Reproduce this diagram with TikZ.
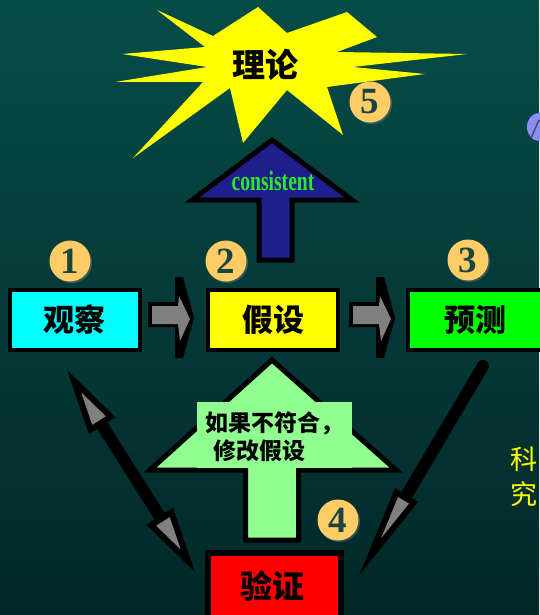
\documentclass[tikz,border=0pt]{standalone}
\usepackage{fontspec}
\newfontfamily\cjk{Noto Sans CJK SC}
\newfontfamily\numfont{Liberation Serif}
\usetikzlibrary{calc,shadows}
\definecolor{bgtop}{RGB}{6,76,72}
\definecolor{bgbot}{RGB}{3,40,40}
\definecolor{numorange}{RGB}{255,204,102}
\definecolor{numteal}{RGB}{28,68,62}
\definecolor{navyarr}{RGB}{30,30,140}
\definecolor{lgreen}{RGB}{144,255,144}
\definecolor{consgreen}{RGB}{40,235,40}
\definecolor{arrgray}{RGB}{128,128,128}
\definecolor{lav}{RGB}{140,140,255}
\definecolor{boxcyan}{RGB}{0,255,255}
\definecolor{boxgreen}{RGB}{0,255,0}
\definecolor{boxyellow}{RGB}{255,255,0}
\definecolor{boxred}{RGB}{255,0,0}
\tikzset{
  cbox/.style={draw=black, line width=4pt, minimum width=130pt, minimum height=60pt, inner sep=0pt,
    font=\cjk\bfseries\fontsize{31}{31}\selectfont, text=black},
  numc/.style={circle, fill=numorange, minimum size=41pt, inner sep=0pt,
    font=\numfont\bfseries\fontsize{37}{37}\selectfont, text=numteal,
    drop shadow={opacity=0.45, shadow xshift=1.5pt, shadow yshift=-1.5pt}},
  headst/.style={fill=arrgray, draw=black, line width=6pt, line join=miter, miter limit=12},
  bigarr/.style={draw=black, line width=5pt, line join=miter, miter limit=12},
}
\begin{document}
\begin{tikzpicture}[x=1pt,y=-1pt]
\useasboundingbox (0,0) rectangle (539,615);
% background
\fill[top color=bgtop, bottom color=bgbot] (0,0) rectangle (539,615);

% starburst
\fill[boxyellow] (157,10) -- (213,36) -- (258,7) -- (287,33) -- (347,12) -- (377,37) -- (337,52)
  -- (467,54) -- (353,67) -- (425,74) -- (327,87) -- (343,135) -- (287,90) -- (243,143)
  -- (230,88) -- (133,158) -- (203,82) -- (115,82) -- (207,67) -- (122,54) -- (205,47) -- cycle;
\node[font=\cjk\bfseries\fontsize{33}{33}\selectfont, text=black] (theory) at (265,65) {理论};

% blue up arrow
\draw[bigarr, fill=navyarr] (272,140) -- (352,200) -- (292,200) -- (292,260) -- (259,260)
  -- (259,200) -- (192,200) -- cycle;
\node[font=\numfont\bfseries\fontsize{28}{28}\selectfont, text=consgreen, inner sep=0pt] (cons) at (273,181)
  {\scalebox{0.7}[1]{consistent}};

% boxes
\node[cbox, fill=boxcyan] (obs) at (74.5,320) {观察};
\node[cbox, fill=boxyellow] (hyp) at (273,320) {假设};
\node[cbox, fill=boxgreen, minimum width=134pt] (pred) at (475,320) {预测};

% small arrows
\foreach \dx in {0,201}{
  \begin{scope}[xshift=\dx pt]
  \fill[black] (148,302) -- (175,302) -- (175,277) -- (183,277) -- (194,318) -- (183,358)
    -- (175,358) -- (175,327) -- (148,327) -- cycle;
  \fill[arrgray] (152,306) -- (178,306) -- (179,296) -- (190,319) -- (180,341) -- (178,324)
    -- (152,324) -- cycle;
  \end{scope}
}

% light green up arrow
\draw[bigarr, fill=lgreen] (272,360) -- (396,470) -- (298.5,470) -- (298.5,540) -- (245.5,540)
  -- (245.5,470) -- (150,470) -- cycle;
\fill[lgreen] (197,402) rectangle (352,468);
\node[anchor=west, inner sep=0pt, font=\cjk\bfseries\fontsize{23}{23}\selectfont] (if1) at (205,423) {如果不符合，};
\node[anchor=west, inner sep=0pt, font=\cjk\bfseries\fontsize{23}{23}\selectfont] (if2) at (213,451) {修改假设};

% left double arrow (observe <-> verify)
\coordinate (LT) at (74,381);
\coordinate (LB) at (188,561);
\coordinate (L1) at ($(LT)!50pt!(LB)$);
\coordinate (L2) at ($(LB)!50pt!(LT)$);
\draw[line width=12pt] (L1) -- (L2);
\draw[headst] (LT) -- ($(L1)!12pt!90:(LB)$) -- ($(L1)!12pt!-90:(LB)$) -- cycle;
\draw[headst] (LB) -- ($(L2)!12pt!90:(LT)$) -- ($(L2)!12pt!-90:(LT)$) -- cycle;

% right arrow (predict -> verify)
\coordinate (RT) at (483,366);
\coordinate (RB) at (370,557);
\coordinate (R1) at ($(RB)!69pt!(RT)$);
\draw[line width=12pt, line cap=round] (RT) -- (R1);
\draw[headst] (RB) -- ($(R1)!10pt!90:(RT)$) -- ($(R1)!10pt!-90:(RT)$) -- cycle;

% verify box
\draw[line width=6pt, fill=boxred] (208,553) rectangle (340.5,630);
\node[font=\cjk\bfseries\fontsize{32}{32}\selectfont, text=black] (ver) at (272,586) {验证};

% circled numbers
\node[numc] (n1) at (70,261) {1};
\node[numc] (n2) at (226,261) {2};
\node[numc] (n3) at (468,260) {3};
\node[numc] (n4) at (338,520) {4};
\node[numc] (n5) at (370,102) {5};

% right edge text and icon
\node[anchor=east, inner sep=0pt, font=\cjk\fontsize{27}{27}\selectfont, text=boxyellow] (k1) at (538,459) {科};
\node[anchor=east, inner sep=0pt, font=\cjk\fontsize{27}{27}\selectfont, text=boxyellow] (k2) at (538,494) {究};
\fill[lav] (539,127) ellipse (12pt and 14pt);
\draw[gray!60!black, line width=1.5pt] (531,138) -- (539,120);
\end{tikzpicture}
\end{document}
